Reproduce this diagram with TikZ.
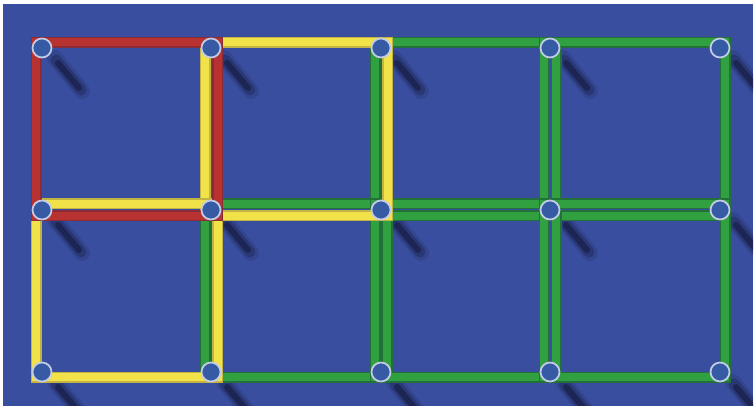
\documentclass[tikz,border=0pt]{standalone}
\usepackage{xcolor}
\usepackage{tikz}
\usetikzlibrary{calc,backgrounds}
\definecolor{boardBlue}{HTML}{3A4EA0}
\definecolor{pegFill}{HTML}{365AA4}
\definecolor{pegRing}{HTML}{C2CCE6}
\definecolor{shadeNavy}{HTML}{121838}
\definecolor{stickRed}{HTML}{B83232}
\definecolor{stickRedDk}{HTML}{8A2C38}
\definecolor{stickYellow}{HTML}{F2E24A}
\definecolor{stickYellowDk}{HTML}{C2B444}
\definecolor{stickGreen}{HTML}{31A040}
\definecolor{stickGreenDk}{HTML}{22703A}

\begin{document}
\begin{tikzpicture}[
    peg/.style={circle,draw=pegRing,fill=pegFill,line width=0.035cm,
                minimum size=0.38cm,inner sep=0pt},
    stick/.style={line width=0.03cm,double distance=0.16cm},
    redsq/.style={stick,draw=stickRedDk,double=stickRed},
    yellowsq/.style={stick,draw=stickYellowDk,double=stickYellow},
    greensq/.style={stick,draw=stickGreenDk,double=stickGreen},
    shade/.style={shadeNavy,line cap=round}
  ]
  \useasboundingbox (0,0) rectangle (15.12,8.2);
  % Top row
  \node[peg] (n00) at ( 0.84,7.24) {};
  \node[peg] (n10) at ( 4.22,7.24) {};
  \node[peg] (n20) at ( 7.62,7.24) {};
  \node[peg] (n30) at (11.00,7.24) {};
  \node[peg] (n40) at (14.40,7.24) {};
  % Middle row
  \node[peg] (n01) at ( 0.84,4.00) {};
  \node[peg] (n11) at ( 4.22,4.00) {};
  \node[peg] (n21) at ( 7.62,4.00) {};
  \node[peg] (n31) at (11.00,4.00) {};
  \node[peg] (n41) at (14.40,4.00) {};
  % Bottom row
  \node[peg] (n02) at ( 0.84,0.76) {};
  \node[peg] (n12) at ( 4.22,0.76) {};
  \node[peg] (n22) at ( 7.62,0.76) {};
  \node[peg] (n32) at (11.00,0.76) {};
  \node[peg] (n42) at (14.40,0.76) {};
  \begin{scope}[on background layer]
    % Board
    \fill[white] (0,0) rectangle (15.12,8.2);
    \fill[boardBlue] (0.06,0.08) rectangle (15.06,8.12);
    % Shadows
    \begin{scope}
      \clip (0.06,0.08) rectangle (15.06,8.12);
      \foreach \p in {n00,n10,n20,n30,n40,n01,n11,n21,n31,n41,n02,n12,n22,n32,n42}{
        \draw[shade,line width=0.32cm,opacity=0.16] ($(\p)+(0.26,-0.20)$) -- ($(\p)+(0.80,-0.86)$);
        \draw[shade,line width=0.22cm,opacity=0.3] ($(\p)+(0.28,-0.24)$) -- ($(\p)+(0.78,-0.84)$);
        \draw[shade,line width=0.12cm,opacity=0.55] ($(\p)+(0.32,-0.30)$) -- ($(\p)+(0.74,-0.80)$);
      }
    \end{scope}
    % Green squares
    \draw[greensq] ($(n20)+(-0.12,0.11)$) rectangle ($(n31)+(0.12,-0.12)$);
    \draw[greensq] ($(n30)+(-0.12,0.11)$) rectangle ($(n41)+(0.10,-0.12)$);
    \draw[greensq] ($(n11)+(-0.12,0.12)$) rectangle ($(n22)+(0.12,-0.11)$);
    \draw[greensq] ($(n21)+(-0.12,0.12)$) rectangle ($(n32)+(0.12,-0.11)$);
    \draw[greensq] ($(n31)+(-0.12,0.12)$) rectangle ($(n42)+(0.10,-0.11)$);
    % Yellow squares
    \draw[yellowsq] ($(n10)+(-0.12,0.11)$) rectangle ($(n21)+(0.13,-0.12)$);
    \draw[yellowsq] ($(n01)+(-0.12,0.12)$) rectangle ($(n12)+(0.13,-0.11)$);
    % Red square
    \draw[redsq] ($(n00)+(-0.12,0.11)$) rectangle ($(n11)+(0.13,-0.12)$);
  \end{scope}
\end{tikzpicture}
\end{document}
